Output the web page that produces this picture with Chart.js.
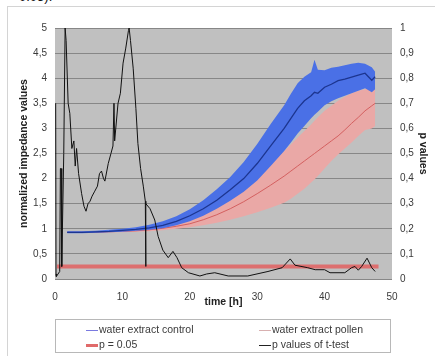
<!DOCTYPE html>
<html>
<head>
<meta charset="utf-8">
<script src="https://cdn.jsdelivr.net/npm/chart.js@4.4.0/dist/chart.umd.min.js"></script>
<style>
  html, body { margin: 0; padding: 0; background: #fff; }
  #wrap { position: relative; width: 435px; height: 356px; overflow: hidden; font-family: "Liberation Sans", Arial, sans-serif; }
  #frame { position: absolute; left: 7px; top: 6px; width: 460px; height: 380px; border-left: 1px solid #d4d4d4; border-top: 1px solid #d4d4d4; }
  #cap { position: absolute; left: 19px; top: -11px; font-size: 13px; color: #111; }
  canvas { position: absolute; left: 0; top: 0; }
  #legend { position: absolute; left: 55px; top: 319px; width: 336px; height: 34px; border: 1px solid #b8b8b8; box-sizing: border-box; font-size: 10.5px; color: #3a3a3a; }
  .item { position: absolute; height: 14px; line-height: 14px; white-space: nowrap; }
  .sw { display: inline-block; width: 12px; vertical-align: middle; margin-right: 1px; }
</style>
</head>
<body>
<div id="wrap">
  <div id="frame"></div>
  <div id="cap">0.05).</div>
  <canvas id="c" width="435" height="356"></canvas>
  <div id="legend">
    <div class="item" style="left:30px;top:2px"><span class="sw" style="border-top:1px solid #7a7ae0"></span>water extract control</div>
    <div class="item" style="left:203px;top:2px"><span class="sw" style="border-top:1px solid #d8b0b0"></span>water extract pollen</div>
    <div class="item" style="left:30px;top:17px"><span class="sw" style="border-top:3px solid #e06a6a"></span>p = 0.05</div>
    <div class="item" style="left:203px;top:17px"><span class="sw" style="border-top:1px solid #222"></span>p values of t-test</div>
  </div>
</div>
<script>
// time points (h) for the impedance curves
const times = [1.8, 4, 6, 8, 10, 12, 14, 16, 18, 20, 22, 24, 26, 28, 30, 32, 34, 35, 36, 37, 38, 38.5, 39, 40, 41, 42, 43, 44, 45, 46, 47, 47.5];
// water extract control: mean, upper and lower band
const controlMean  = [0.93, 0.93, 0.94, 0.95, 0.97, 0.99, 1.02, 1.07, 1.15, 1.26, 1.40, 1.57, 1.78, 2.00, 2.30, 2.65, 3.00, 3.20, 3.40, 3.55, 3.65, 3.72, 3.70, 3.82, 3.88, 3.95, 3.98, 4.02, 4.06, 4.10, 3.96, 4.03];
const controlUpper = [0.95, 0.95, 0.96, 0.98, 1.00, 1.03, 1.08, 1.15, 1.25, 1.39, 1.57, 1.79, 2.03, 2.33, 2.69, 3.09, 3.46, 3.69, 3.90, 4.03, 4.12, 4.37, 4.17, 4.16, 4.21, 4.23, 4.26, 4.29, 4.31, 4.29, 4.22, 4.13];
const controlLower = [0.91, 0.91, 0.92, 0.93, 0.94, 0.96, 0.98, 1.01, 1.07, 1.15, 1.26, 1.40, 1.56, 1.74, 1.96, 2.25, 2.55, 2.72, 2.90, 3.05, 3.20, 3.27, 3.33, 3.46, 3.54, 3.60, 3.65, 3.70, 3.75, 3.80, 3.72, 3.78];
// water extract pollen: mean, upper and lower band
const pollenMean  = [0.93, 0.93, 0.93, 0.94, 0.95, 0.96, 0.98, 1.01, 1.05, 1.10, 1.18, 1.28, 1.40, 1.54, 1.70, 1.87, 2.05, 2.15, 2.25, 2.35, 2.45, 2.50, 2.55, 2.65, 2.75, 2.85, 2.97, 3.10, 3.22, 3.35, 3.45, 3.50];
const pollenUpper = [0.94, 0.94, 0.94, 0.95, 0.97, 0.98, 1.01, 1.05, 1.11, 1.18, 1.30, 1.45, 1.62, 1.82, 2.05, 2.30, 2.55, 2.68, 2.82, 2.95, 3.08, 3.15, 3.22, 3.35, 3.45, 3.55, 3.63, 3.70, 3.75, 3.78, 3.80, 3.83];
const pollenLower = [0.92, 0.92, 0.92, 0.93, 0.93, 0.94, 0.95, 0.97, 1.00, 1.03, 1.07, 1.12, 1.18, 1.25, 1.33, 1.42, 1.52, 1.60, 1.70, 1.80, 1.92, 1.98, 2.05, 2.20, 2.35, 2.48, 2.60, 2.72, 2.85, 2.97, 3.00, 3.05];
// p values of t-test (right axis)
const pTimes  = [0.1, 0.15, 0.2, 0.7, 0.8, 0.9, 1.0, 1.3, 1.5, 1.65, 1.95, 2.2, 2.5, 2.8, 3.0, 3.2, 3.5, 3.95, 4.3, 4.6, 4.9, 5.2, 5.5, 5.9, 6.3, 6.6, 6.9, 7.2, 7.4, 7.9, 8.3, 8.6, 8.75, 8.85, 9.35, 9.7, 10.1, 10.5, 10.9, 11.0, 11.2, 11.6, 12.0, 12.3, 12.7, 13.1, 13.4, 13.45, 13.5, 14.1, 14.8, 15.3, 16.0, 16.8, 17.5, 18.1, 18.8, 19.8, 21.5, 22.5, 23.7, 25.7, 28.6, 31.6, 33.7, 34.9, 35.6, 37.5, 38.6, 40, 40.8, 43, 44, 44.5, 45, 45.5, 46.3, 47, 47.5];
const pValues = [0.70, 0.02, 0.01, 0.03, 0.44, 0.44, 0.05, 0.5, 1.0, 0.95, 0.70, 0.66, 0.52, 0.55, 0.45, 0.52, 0.42, 0.34, 0.29, 0.27, 0.30, 0.31, 0.33, 0.35, 0.37, 0.42, 0.43, 0.40, 0.39, 0.46, 0.50, 0.53, 0.70, 0.55, 0.70, 0.74, 0.86, 0.92, 0.99, 1.0, 0.95, 0.84, 0.68, 0.54, 0.44, 0.37, 0.31, 0.05, 0.30, 0.28, 0.235, 0.17, 0.115, 0.085, 0.11, 0.085, 0.045, 0.025, 0.012, 0.02, 0.025, 0.012, 0.012, 0.03, 0.045, 0.08, 0.055, 0.045, 0.037, 0.037, 0.025, 0.025, 0.045, 0.05, 0.035, 0.05, 0.083, 0.045, 0.03];
// significance threshold
const thresholdTimes = [0.3, 48];
const thresholdValues = [0.05, 0.05];

const pts = (xs, ys) => xs.map((x, i) => ({ x: x, y: ys[i] }));
const FONT = '"Liberation Sans", Arial, sans-serif';
const TXT = '#3a3a3a';

const plotBg = {
  id: 'plotBg',
  beforeDraw(chart) {
    const { ctx, chartArea: a } = chart;
    ctx.save();
    ctx.fillStyle = '#c0c0c0';
    ctx.fillRect(a.left, a.top, a.right - a.left, a.bottom - a.top);
    ctx.restore();
  }
};

const base = { pointRadius: 0, pointHoverRadius: 0, tension: 0, fill: false };

new Chart(document.getElementById('c'), {
  type: 'line',
  data: {
    datasets: [
      Object.assign({}, base, { data: pts(pTimes, pValues), yAxisID: 'y2', borderColor: '#111', borderWidth: 1, order: 0 }),
      Object.assign({}, base, { data: pts(thresholdTimes, thresholdValues), yAxisID: 'y2', borderColor: 'rgba(226,96,96,0.85)', borderWidth: 4, order: 1 }),
      Object.assign({}, base, { data: pts(times, controlMean), yAxisID: 'y', borderColor: '#1c3590', borderWidth: 1.3, order: 2 }),
      Object.assign({}, base, { data: pts(times, controlUpper), yAxisID: 'y', borderWidth: 0, borderColor: 'rgba(0,0,0,0)', backgroundColor: '#4a70e6', fill: '+1', order: 3 }),
      Object.assign({}, base, { data: pts(times, controlLower), yAxisID: 'y', borderWidth: 0, borderColor: 'rgba(0,0,0,0)', order: 4 }),
      Object.assign({}, base, { data: pts(times, pollenMean), yAxisID: 'y', borderColor: '#d46060', borderWidth: 1, order: 5 }),
      Object.assign({}, base, { data: pts(times, pollenUpper), yAxisID: 'y', borderWidth: 0, borderColor: 'rgba(0,0,0,0)', backgroundColor: '#eaa8a6', fill: '+1', order: 6 }),
      Object.assign({}, base, { data: pts(times, pollenLower), yAxisID: 'y', borderWidth: 0, borderColor: 'rgba(0,0,0,0)', order: 7 })
    ]
  },
  options: {
    responsive: false,
    animation: false,
    events: [],
    layout: { padding: { top: 28, bottom: 48, left: 0, right: 0 } },
    plugins: { legend: { display: false }, tooltip: { enabled: false } },
    scales: {
      x: {
        type: 'linear', min: 0, max: 50,
        grid: { display: false, drawTicks: false },
        border: { display: false },
        ticks: { stepSize: 10, padding: 12, color: TXT, font: { family: FONT, size: 10 } },
        title: { display: true, text: 'time [h]', color: '#222', padding: 0, font: { family: FONT, size: 10.5, weight: 'bold' } },
        afterFit(s) { s.height = 29; }
      },
      y: {
        position: 'left', min: 0, max: 5,
        grid: { color: '#878787', lineWidth: 1, drawTicks: false },
        border: { display: false },
        ticks: { stepSize: 0.5, padding: 8, color: TXT, font: { family: FONT, size: 10 },
                 callback: v => String(v).replace('.', ',') },
        title: { display: true, text: 'normalized impedance values', color: '#222', padding: { top: 18, bottom: 0 }, font: { family: FONT, size: 10.5, weight: 'bold' } },
        afterFit(s) { s.width = 55; }
      },
      y2: {
        position: 'right', min: 0, max: 1,
        grid: { display: false, drawTicks: false },
        border: { display: false },
        ticks: { stepSize: 0.1, padding: 8, color: TXT, font: { family: FONT, size: 10 },
                 callback: v => String(Math.round(v * 10) / 10).replace('.', ',') },
        title: { display: true, text: 'p values', color: '#222', padding: { top: 6, bottom: 0 }, font: { family: FONT, size: 10.5, weight: 'bold' } },
        afterFit(s) { s.width = 43; }
      }
    }
  },
  plugins: [plotBg]
});
</script>
</body>
</html>
